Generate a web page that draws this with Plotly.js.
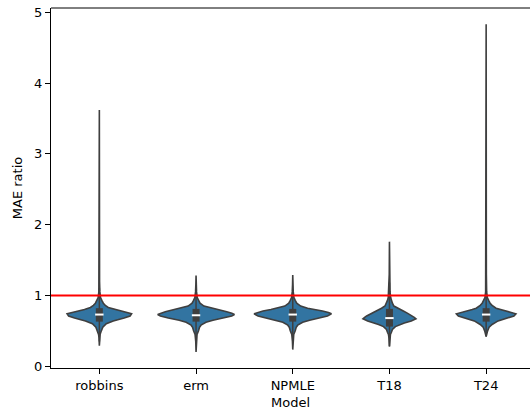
<!DOCTYPE html>
<html>
<head>
<meta charset="utf-8">
<script src="https://cdn.plot.ly/plotly-3.0.1.min.js"></script>
<style>html,body{margin:0;padding:0;background:#fff;}#chart{width:530px;height:415px;}</style>
</head>
<body>
<div id="chart"></div>
<script>
// Categories
const models = ['robbins', 'erm', 'NPMLE', 'T18', 'T24'];

// Density profiles (value grid, relative density)
const robbinsGrid = [0.29, 0.40, 0.45, 0.50, 0.55, 0.60, 0.64, 0.68, 0.71, 0.74, 0.77, 0.80, 0.83, 0.86, 0.89, 0.93, 0.97, 1.05, 1.20, 3.62];
const robbinsDens = [0, 0.3, 0.8, 2, 3.5, 7, 14, 25, 31, 32.5, 24, 15, 9, 6, 4, 2.5, 1.2, 0.5, 0.2, 0];

const ermGrid = [0.20, 0.35, 0.45, 0.50, 0.55, 0.58, 0.62, 0.65, 0.68, 0.71, 0.73, 0.75, 0.77, 0.80, 0.82, 0.85, 0.89, 0.93, 0.97, 1.05, 1.15, 1.28];
const ermDens = [0, 0.3, 1, 2.5, 3.5, 5, 10, 17, 28, 36, 38.7, 36, 31, 22, 15, 8, 4, 2.5, 1.2, 0.5, 0.2, 0];

const npmleGrid = [0.235, 0.35, 0.45, 0.50, 0.55, 0.58, 0.62, 0.65, 0.68, 0.71, 0.74, 0.76, 0.78, 0.80, 0.82, 0.85, 0.89, 0.93, 0.97, 1.05, 1.15, 1.29];
const npmleDens = [0, 0.3, 1, 2.5, 3.5, 5, 10, 17, 27, 35, 39, 36, 30, 22, 15, 8, 4, 2.5, 1.2, 0.5, 0.2, 0];

const t18Grid = [0.28, 0.40, 0.45, 0.48, 0.52, 0.56, 0.59, 0.61, 0.64, 0.67, 0.69, 0.71, 0.75, 0.78, 0.82, 0.85, 0.89, 0.93, 0.97, 1.05, 1.30, 1.76];
const t18Dens = [0, 0.5, 1, 2, 3, 6, 11, 15, 22, 26.7, 25, 23, 18, 14, 8, 4.5, 3, 2, 1.2, 0.6, 0.2, 0];

const t24Grid = [0.42, 0.47, 0.50, 0.55, 0.59, 0.64, 0.68, 0.71, 0.74, 0.77, 0.80, 0.82, 0.86, 0.89, 0.93, 0.97, 1.05, 1.30, 4.83];
const t24Dens = [0, 0.8, 1.5, 3, 6, 12, 22, 28, 30, 22, 14, 10, 6, 4, 2.5, 1.2, 0.5, 0.2, 0];

// Inner box statistics per model
const q1 = [0.63, 0.63, 0.63, 0.56, 0.63];
const medians = [0.73, 0.72, 0.73, 0.68, 0.73];
const q3 = [0.82, 0.81, 0.81, 0.81, 0.82];
const whiskerLow = [0.35, 0.36, 0.36, 0.28, 0.42];
const whiskerHigh = [1.10, 1.08, 1.08, 1.18, 1.10];

// Reference line
const refLine = 1;

const grids = [robbinsGrid, ermGrid, npmleGrid, t18Grid, t24Grid];
const dens = [robbinsDens, ermDens, npmleDens, t18Dens, t24Dens];

const fillColor = '#3274a1';
const edgeColor = '#3f3f3f';
const maxHalf = 0.4;
const globalMax = Math.max(...dens.map(d => Math.max(...d)));

const traces = [];
models.forEach((m, i) => {
  const g = grids[i], d = dens[i];
  const xs = [], ys = [];
  for (let k = 0; k < g.length; k++) { xs.push(i + d[k] / globalMax * maxHalf); ys.push(g[k]); }
  for (let k = g.length - 1; k >= 0; k--) { xs.push(i - d[k] / globalMax * maxHalf); ys.push(g[k]); }
  traces.push({
    type: 'scatter', mode: 'lines', x: xs, y: ys, fill: 'toself',
    fillcolor: fillColor, line: {color: edgeColor, width: 1.6}, showlegend: false, hoverinfo: 'skip'
  });
});
models.forEach((m, i) => {
  traces.push({type: 'scatter', mode: 'lines', x: [i, i], y: [whiskerLow[i], whiskerHigh[i]],
    line: {color: edgeColor, width: 1.5}, showlegend: false, hoverinfo: 'skip'});
  traces.push({type: 'scatter', mode: 'lines', x: [i, i], y: [q1[i], q3[i]],
    line: {color: edgeColor, width: 7}, showlegend: false, hoverinfo: 'skip'});
});
traces.push({type: 'scatter', mode: 'markers', x: models.map((m, i) => i), y: medians,
  marker: {symbol: 'line-ew', size: 6, color: 'white', line: {color: 'white', width: 2}},
  showlegend: false, hoverinfo: 'skip'});

const font = {family: 'DejaVu Sans, sans-serif', size: 13, color: '#000'};
const layout = {
  width: 530, height: 415,
  margin: {l: 51, r: 0, t: 8, b: 46.5},
  paper_bgcolor: '#fff', plot_bgcolor: '#fff',
  font: font,
  showlegend: false,
  xaxis: {
    type: 'linear', range: [-0.5, 4.4535],
    tickmode: 'array', tickvals: models.map((m, i) => i), ticktext: models,
    showgrid: false, zeroline: false, showline: true, linecolor: '#000', linewidth: 1,
    ticks: 'outside', ticklen: 5, tickcolor: '#000', tickwidth: 1,
    title: {text: 'Model', font: font, standoff: 6}
  },
  yaxis: {
    range: [-0.025, 5.06],
    tickmode: 'array', tickvals: [0, 1, 2, 3, 4, 5],
    showgrid: false, zeroline: false, showline: true, linecolor: '#000', linewidth: 1,
    ticks: 'outside', ticklen: 5, tickcolor: '#000', tickwidth: 1,
    title: {text: 'MAE ratio', font: font, standoff: 8}
  },
  shapes: [
    {type: 'line', xref: 'paper', yref: 'y', x0: 0, x1: 1, y0: refLine, y1: refLine,
     line: {color: 'red', width: 2}, layer: 'above'},
    {type: 'line', xref: 'paper', yref: 'paper', x0: 0, x1: 1, y0: 1, y1: 1,
     line: {color: '#000', width: 1}, layer: 'above'}
  ]
};
Plotly.newPlot('chart', traces, layout, {staticPlot: true, displayModeBar: false});
</script>
</body>
</html>
